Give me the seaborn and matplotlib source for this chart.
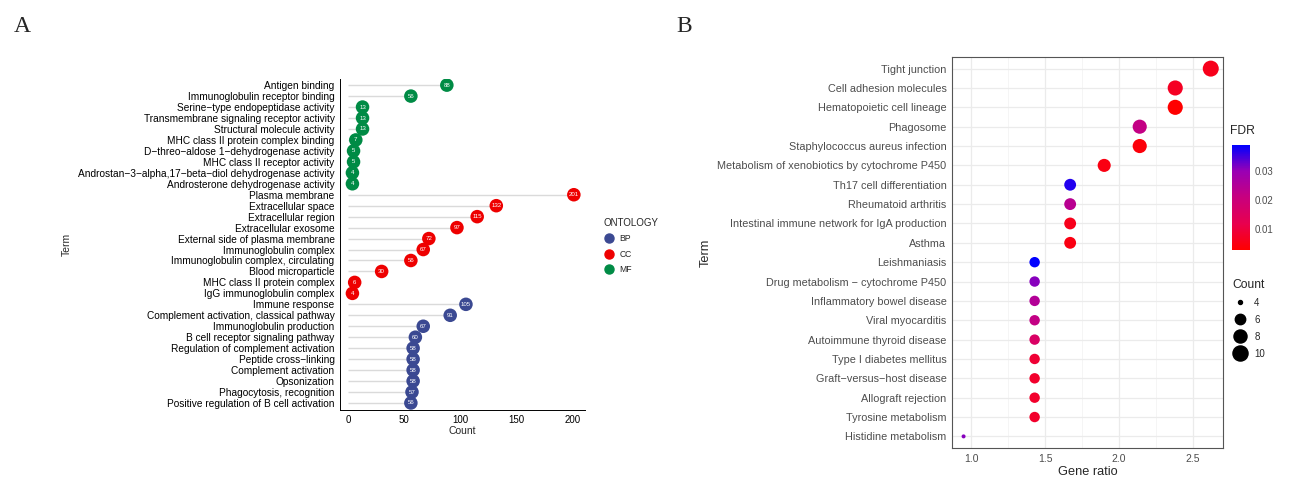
import numpy as np
import pandas as pd
import seaborn as sns
import matplotlib.pyplot as plt
from matplotlib.colors import LinearSegmentedColormap, Normalize
from matplotlib.cm import ScalarMappable
from matplotlib.lines import Line2D

# Panel A: GO terms (top to bottom)
go_terms = ['Antigen binding', 'Immunoglobulin receptor binding',
            'Serine\u2212type endopeptidase activity', 'Transmembrane signaling receptor activity',
            'Structural molecule activity', 'MHC class II protein complex binding',
            'D\u2212threo\u2212aldose 1\u2212dehydrogenase activity', 'MHC class II receptor activity',
            'Androstan\u22123\u2212alpha,17\u2212beta\u2212diol dehydrogenase activity',
            'Androsterone dehydrogenase activity',
            'Plasma membrane', 'Extracellular space', 'Extracellular region', 'Extracellular exosome',
            'External side of plasma membrane', 'Immunoglobulin complex',
            'Immunoglobulin complex, circulating', 'Blood microparticle',
            'MHC class II protein complex', 'IgG immunoglobulin complex',
            'Immune response', 'Complement activation, classical pathway', 'Immunoglobulin production',
            'B cell receptor signaling pathway', 'Regulation of complement activation',
            'Peptide cross\u2212linking', 'Complement activation', 'Opsonization',
            'Phagocytosis, recognition', 'Positive regulation of B cell activation']
go_counts = [88, 56, 13, 13, 13, 7, 5, 5, 4, 4,
             201, 132, 115, 97, 72, 67, 56, 30, 6, 4,
             105, 91, 67, 60, 58, 58, 58, 58, 57, 56]
go_ontology = ['MF', 'MF', 'MF', 'MF', 'MF', 'MF', 'MF', 'MF', 'MF', 'MF',
               'CC', 'CC', 'CC', 'CC', 'CC', 'CC', 'CC', 'CC', 'CC', 'CC',
               'BP', 'BP', 'BP', 'BP', 'BP', 'BP', 'BP', 'BP', 'BP', 'BP']
onto_colors = {'BP': '#3B4992', 'CC': '#EE0000', 'MF': '#008B45'}

# Panel B: KEGG pathways (top to bottom)
kegg_terms = ['Tight junction', 'Cell adhesion molecules', 'Hematopoietic cell lineage', 'Phagosome',
              'Staphylococcus aureus infection', 'Metabolism of xenobiotics by cytochrome P450',
              'Th17 cell differentiation', 'Rheumatoid arthritis',
              'Intestinal immune network for IgA production', 'Asthma', 'Leishmaniasis',
              'Drug metabolism \u2212 cytochrome P450', 'Inflammatory bowel disease', 'Viral myocarditis',
              'Autoimmune thyroid disease', 'Type I diabetes mellitus', 'Graft\u2212versus\u2212host disease',
              'Allograft rejection', 'Tyrosine metabolism', 'Histidine metabolism']
kegg_ratio = [2.62, 2.38, 2.38, 2.14, 2.14, 1.90, 1.67, 1.67, 1.67, 1.67,
              1.43, 1.43, 1.43, 1.43, 1.43, 1.43, 1.43, 1.43, 1.43, 0.95]
kegg_count = [11, 10, 10, 9, 9, 8, 7, 7, 7, 7, 6, 6, 6, 6, 6, 6, 6, 6, 6, 4]
kegg_fdr = [0.006, 0.007, 0.0028, 0.022, 0.004, 0.005, 0.037, 0.024, 0.006, 0.005,
            0.039, 0.031, 0.025, 0.022, 0.016, 0.009, 0.008, 0.008, 0.008, 0.031]

sns.set_style('white')
plt.rcParams['font.family'] = ['Liberation Sans', 'DejaVu Sans']

fig = plt.figure(figsize=(12.93, 4.79), dpi=100)
axA = fig.add_axes([0.263, 0.145, 0.1895, 0.691])
axB = fig.add_axes([0.7363, 0.0647, 0.2096, 0.8163])

# ---- panel A: lollipop
dfA = pd.DataFrame({'Term': go_terms, 'Count': go_counts, 'ONTOLOGY': go_ontology})
dfA['pos'] = np.arange(len(dfA))
axA.hlines(dfA['pos'], 0, dfA['Count'], color='#DADADA', lw=1, zorder=1)
sns.scatterplot(data=dfA, x='Count', y='pos', hue='ONTOLOGY', palette=onto_colors,
                s=95, edgecolor='none', legend=False, zorder=2, ax=axA)
for _, r in dfA.iterrows():
    axA.text(r['Count'], r['pos'], str(r['Count']), ha='center', va='center',
             color='white', fontsize=4.4, zorder=3)
axA.set_xlim(-7, 211)
axA.set_ylim(29.6, -0.6)
axA.set_xticks([0, 50, 100, 150, 200])
axA.set_yticks(dfA['pos'])
axA.set_yticklabels(dfA['Term'])
axA.tick_params(axis='y', length=2.5, width=0.6, labelsize=7.25, colors='black', pad=1.5)
axA.tick_params(axis='x', length=2.5, width=0.6, labelsize=7, colors='black', pad=1.5)
sns.despine(ax=axA)
for s in ['left', 'bottom']:
    axA.spines[s].set_linewidth(0.7)
    axA.spines[s].set_color('black')
axA.set_xlabel('Count', fontsize=7.5, labelpad=1)
axA.set_ylabel('Term', fontsize=7.5)

handles = [Line2D([], [], marker='o', ls='', color=onto_colors[k], markersize=6.5, label=k)
           for k in ['BP', 'CC', 'MF']]
fig.legend(handles=handles, title='ONTOLOGY', loc='upper left', frameon=False,
           bbox_to_anchor=(596 / 1293, 1 - 210 / 479), fontsize=6.2, title_fontsize=7,
           alignment='left', labelspacing=0.75, handletextpad=0.6, handlelength=1.2)

# ---- panel B: bubble plot
cmap = LinearSegmentedColormap.from_list(
    'fdr', [(0, '#FF0000'), (0.25, '#E8004E'), (0.5, '#C8007E'), (0.75, '#9A00B4'), (1, '#0000FF')])
norm = Normalize(min(kegg_fdr), max(kegg_fdr))


def size_of(c):
    d = 4 + 12 * np.sqrt((c - 4) / 7)
    return (d * 0.72) ** 2


dfB = pd.DataFrame({'Term': kegg_terms, 'ratio': kegg_ratio, 'Count': kegg_count, 'FDR': kegg_fdr})
dfB['pos'] = np.arange(len(dfB))
size_map = {c: size_of(c) for c in sorted(set(kegg_count))}
sns.scatterplot(data=dfB, x='ratio', y='pos', hue='FDR', hue_norm=norm, palette=cmap,
                size='Count', sizes=size_map, edgecolor='none', legend=False, zorder=3, ax=axB)
axB.set_xlim(0.872, 2.703)
axB.set_ylim(19.6, -0.6)
axB.set_xticks([1.0, 1.5, 2.0, 2.5])
axB.set_xticks([1.25, 1.75, 2.25], minor=True)
axB.set_yticks(dfB['pos'])
axB.set_yticklabels(dfB['Term'])
axB.grid(which='major', color='#EBEBEB', lw=0.9)
axB.grid(which='minor', axis='x', color='#F2F2F2', lw=0.5)
axB.set_axisbelow(True)
axB.tick_params(axis='y', which='major', length=2.5, width=0.6, color='#333333',
                labelcolor='#4D4D4D', labelsize=7.8, pad=1.5)
axB.tick_params(axis='x', which='major', length=2.5, width=0.6, color='#333333',
                labelcolor='#4D4D4D', labelsize=7.5, pad=1.5)
axB.tick_params(which='minor', length=0)
for s in axB.spines.values():
    s.set_color('#555555')
    s.set_linewidth(0.8)
axB.set_xlabel('Gene ratio', fontsize=9.2, labelpad=2)
axB.set_ylabel('Term', fontsize=9.2)

cax = fig.add_axes([1232 / 1293, 1 - 250 / 479, 18 / 1293, 105 / 479])
cb = fig.colorbar(ScalarMappable(norm=norm, cmap=cmap), cax=cax)
cb.set_ticks([0.01, 0.02, 0.03])
cb.outline.set_visible(False)
cax.tick_params(length=0, labelsize=7, labelcolor='#4D4D4D', pad=3)
fig.text(1230 / 1293, 1 - 131 / 479, 'FDR', fontsize=8.7, va='center', ha='left')

count_handles = [Line2D([], [], marker='o', ls='', color='black',
                        markersize=np.sqrt(size_of(c)), label=str(c)) for c in [4, 6, 8, 10]]
fig.legend(handles=count_handles, title='Count', loc='upper left', frameon=False,
           bbox_to_anchor=(1224 / 1293, 1 - 270 / 479), fontsize=7, title_fontsize=8.7,
           alignment='left', labelspacing=0.72, handletextpad=0.8, handlelength=1.4)

fig.text(22 / 1293, 1 - 27 / 479, 'A', family='Liberation Serif', fontsize=17, ha='center', va='center')
fig.text(684 / 1293, 1 - 27 / 479, 'B', family='Liberation Serif', fontsize=17, ha='center', va='center')

fig.savefig('out.png', dpi=100)
